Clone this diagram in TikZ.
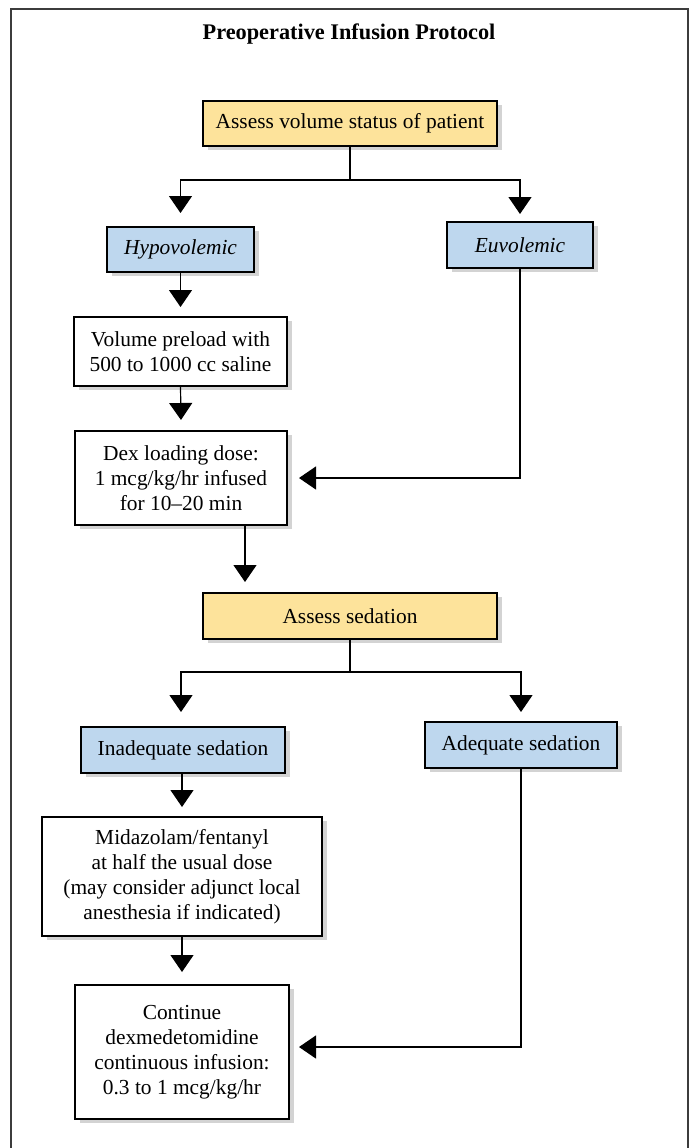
\documentclass[tikz,border=0pt]{standalone}
\usepackage{fontspec}
\setmainfont{Liberation Serif}
\usetikzlibrary{arrows.meta,calc}
\definecolor{boxorange}{RGB}{253,227,155}
\definecolor{boxblue}{RGB}{190,215,238}
\definecolor{shadowgray}{RGB}{211,211,211}
\definecolor{framegray}{RGB}{60,60,60}
\tikzset{
  base box/.style={draw=black, line width=1.2pt, inner sep=0pt, align=center,
    font=\fontsize{21.4}{25}\selectfont,
    postaction={}},
  shadowed/.style={preaction={fill=shadowgray, draw=none, transform canvas={shift={(5pt,-4pt)}}}},
  orangebox/.style={base box, shadowed, fill=boxorange},
  bluebox/.style={base box, shadowed, fill=boxblue},
  whitebox/.style={base box, shadowed, fill=white},
  conn/.style={line width=1.2pt, draw=black},
  arr/.style={conn, -{Triangle[width=23pt,length=17pt]}},
}
\begin{document}
\begin{tikzpicture}[x=1pt,y=-1pt]
\useasboundingbox (0,0) rectangle (692,1148);
% frame
\draw[framegray, line width=1.5pt] (11,1149) -- (11,9) -- (688,9) -- (688,1149);
% title
\node[anchor=base, font=\fontsize{22.3}{26}\selectfont\bfseries] (title) at (349,40) {Preoperative Infusion Protocol};
% boxes
\node[orangebox, minimum width=294pt, minimum height=45pt] (b1) at (350,123.5) {Assess volume status of patient};
\node[bluebox, minimum width=147pt, minimum height=45pt, font=\fontsize{21.4}{25}\selectfont\itshape] (hypo) at (180.5,249.5) {Hypovolemic};
\node[bluebox, minimum width=146pt, minimum height=46pt, font=\fontsize{21.4}{25}\selectfont\itshape] (euvo) at (520,245) {Euvolemic};
\node[whitebox, minimum width=213pt, minimum height=69pt] (preload) at (180.5,351.5) {Volume preload with\\500 to 1000 cc saline};
\node[whitebox, minimum width=212pt, minimum height=94pt] (dex) at (181,478) {Dex loading dose:\\1 mcg/kg/hr infused\\for 10--20 min};
\node[orangebox, minimum width=294pt, minimum height=46pt] (sed) at (350,616) {Assess sedation};
\node[bluebox, minimum width=204pt, minimum height=46pt] (inad) at (183,750) {Inadequate sedation};
\node[bluebox, minimum width=192pt, minimum height=46pt] (adeq) at (521,745) {Adequate sedation};
\node[whitebox, minimum width=280pt, minimum height=119pt] (mida) at (182,876.5) {Midazolam/fentanyl\\at half the usual dose\\(may consider adjunct local\\anesthesia if indicated)};
\node[whitebox, minimum width=214pt, minimum height=134pt] (cont) at (182,1052) {Continue\\dexmedetomidine\\continuous infusion:\\0.3 to 1 mcg/kg/hr};
% coordinates
\coordinate (s1) at (350,180);
\coordinate (t1a) at (180.5,213);
\coordinate (t1b) at (520,214);
\coordinate (t2) at (180.5,307);
\coordinate (t3) at (181,420);
\coordinate (t4) at (299,478);
\coordinate (t5) at (245,582);
\coordinate (s2) at (350,672);
\coordinate (t6a) at (181,712);
\coordinate (t6b) at (521,712);
\coordinate (t7) at (182,807);
\coordinate (t8) at (182,972);
\coordinate (t9) at (299,1047);
% connectors
\draw[conn] (b1.south) -- (s1);
\draw[arr] (s1) -| (t1a);
\draw[arr] (s1) -| (t1b);
\draw[arr] (hypo.south) -- (t2);
\draw[arr] (preload.south) -- (t3);
\draw[arr] (euvo.south) |- (t4);
\draw[arr] (t5 |- dex.south) -- (t5);
\draw[conn] (sed.south) -- (s2);
\draw[arr] (s2) -| (t6a);
\draw[arr] (s2) -| (t6b);
\draw[arr] (t7 |- inad.south) -- (t7);
\draw[arr] (mida.south) -- (t8);
\draw[arr] (adeq.south) |- (t9);
\end{tikzpicture}
\end{document}
